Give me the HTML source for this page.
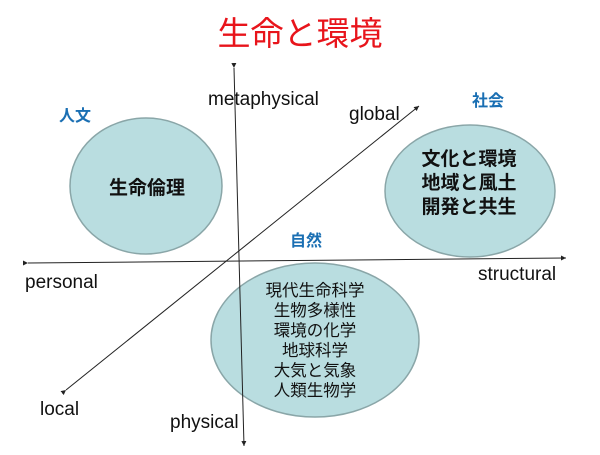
<!DOCTYPE html>
<html><head><meta charset="utf-8"><style>
body{margin:0;background:#fff}
svg text{font-family:"Liberation Sans","Noto Sans CJK JP",sans-serif}
</style></head><body>
<svg width="600" height="450" viewBox="0 0 600 450" xmlns="http://www.w3.org/2000/svg">
<defs><marker id="a" markerWidth="6" markerHeight="6" refX="5" refY="3" orient="auto"><path d="M0,0.5 L5,3 L0,5.5z" fill="#222"/></marker></defs>
<text x="300" y="45" font-size="33" fill="#e8141b" text-anchor="middle">生命と環境</text>
<ellipse cx="146" cy="186" rx="76" ry="68" fill="#b9dde0" stroke="#8aa6a8" stroke-width="1.5"/>
<ellipse cx="470" cy="191" rx="85" ry="66" fill="#b9dde0" stroke="#8aa6a8" stroke-width="1.5"/>
<ellipse cx="315" cy="340" rx="104" ry="77" fill="#b9dde0" stroke="#8aa6a8" stroke-width="1.5"/>
<line x1="234" y1="68" x2="244" y2="446" stroke="#222" stroke-width="1" marker-start="url(#a)" marker-end="url(#a)"/>
<line x1="28" y1="263" x2="566" y2="258" stroke="#222" stroke-width="1" marker-start="url(#a)" marker-end="url(#a)"/>
<line x1="66" y1="390" x2="419" y2="106" stroke="#222" stroke-width="1" marker-start="url(#a)" marker-end="url(#a)"/>
<g font-size="19" fill="#111">
<text x="208" y="105">metaphysical</text>
<text x="349" y="120">global</text>
<text x="25" y="288">personal</text>
<text x="478" y="280">structural</text>
<text x="40" y="415">local</text>
<text x="170" y="428">physical</text>
</g>
<g font-size="16" font-weight="bold" fill="#1a6fb3">
<text x="59" y="121">人文</text>
<text x="472" y="106">社会</text>
<text x="290" y="246">自然</text>
</g>
<text x="147" y="194" font-size="19" font-weight="bold" text-anchor="middle" fill="#111">生命倫理</text>
<g font-size="19" font-weight="bold" text-anchor="middle" fill="#111">
<text x="469" y="165">文化と環境</text>
<text x="469" y="189">地域と風土</text>
<text x="469" y="213">開発と共生</text>
</g>
<g font-size="16.5" text-anchor="middle" fill="#111">
<text x="315" y="296">現代生命科学</text>
<text x="315" y="316">生物多様性</text>
<text x="315" y="336">環境の化学</text>
<text x="315" y="356">地球科学</text>
<text x="315" y="376">大気と気象</text>
<text x="315" y="396">人類生物学</text>
</g>
</svg>
</body></html>
